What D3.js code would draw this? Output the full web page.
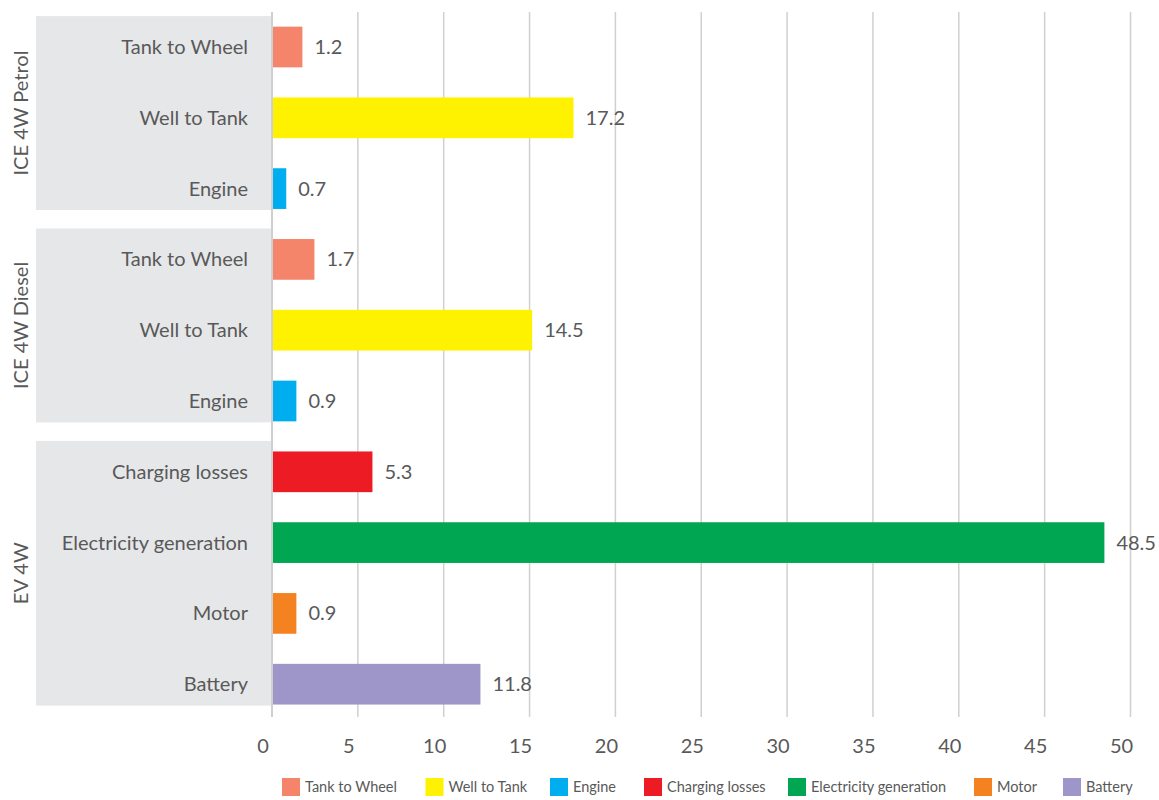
<!DOCTYPE html>
<html>
<head>
<meta charset="utf-8">
<script src="https://cdn.jsdelivr.net/npm/d3@7"></script>
<style>
body { margin: 0; background: #fff; }
svg text { font-family: Lato, "Open Sans", sans-serif; fill: #595959; }
</style>
</head>
<body>
<div class="chart"></div>
<script>
var width = 1159, height = 800;

// data
var groups = ['ICE 4W Petrol', 'ICE 4W Diesel', 'EV 4W'];
var categories = ['Tank to Wheel', 'Well to Tank', 'Engine',
	'Tank to Wheel', 'Well to Tank', 'Engine',
	'Charging losses', 'Electricity generation', 'Motor', 'Battery'];
var categoryGroup = [0, 0, 0, 1, 1, 1, 2, 2, 2, 2];
var barValues = [1.77, 17.56, 0.83, 2.47, 15.15, 1.42, 5.85, 48.48, 1.42, 12.14];
var labelValues = ['1.2', '17.2', '0.7', '1.7', '14.5', '0.9', '5.3', '48.5', '0.9', '11.8'];
var series = ['Tank to Wheel', 'Well to Tank', 'Engine', 'Charging losses', 'Electricity generation', 'Motor', 'Battery'];
var seriesColors = ['#f4846a', '#fff200', '#00aeef', '#ed1c24', '#00a651', '#f58220', '#9e95c8'];
var xTicks = [0, 5, 10, 15, 20, 25, 30, 35, 40, 45, 50];

var color = d3.scaleOrdinal().domain(series).range(seriesColors);

var svg = d3.select('.chart')
	.append('svg')
	.attr('width', width)
	.attr('height', height);

var x = d3.scaleLinear().domain([0, 50]).range([272, 1130.5]);
var y = d3.scaleBand()
	.domain(d3.range(categories.length))
	.range([11.6, 719.6])
	.paddingInner(0.425)
	.paddingOuter(0.2125);

var step = y.step();
var rowTop = function(i) { return y(i) - (step - y.bandwidth()) / 2; };

// gray category panels
groups.forEach(function(g, gi) {
	var idx = categoryGroup.map(function(v, i) { return v === gi ? i : -1; }).filter(function(i) { return i >= 0; });
	var top = rowTop(idx[0]) + 4.5;
	var bottom = rowTop(idx[idx.length - 1]) + step - 14;
	svg.append('rect')
		.attr('x', 36)
		.attr('y', top)
		.attr('width', 235)
		.attr('height', bottom - top)
		.attr('fill', '#e6e7e9');
	svg.append('text')
		.attr('transform', 'translate(28,' + ((top + bottom) / 2) + ') rotate(-90)')
		.attr('text-anchor', 'middle')
		.attr('font-size', 20)
		.text(g);
});

// gridlines + ticks
svg.append('g')
	.selectAll('line')
	.data(xTicks)
	.enter().append('line')
	.attr('x1', function(d) { return x(d); })
	.attr('x2', function(d) { return x(d); })
	.attr('y1', 12)
	.attr('y2', 717)
	.attr('stroke', function(d) { return d === 0 ? '#bfbfbf' : '#d0d0d0'; })
	.attr('stroke-width', 1.5);

svg.append('g')
	.selectAll('text')
	.data(xTicks)
	.enter().append('text')
	.attr('x', function(d) { return x(d) - 9; })
	.attr('y', 753)
	.attr('text-anchor', 'middle')
	.attr('font-size', 20)
	.text(function(d) { return d; });

// category labels
svg.append('g')
	.selectAll('text')
	.data(categories)
	.enter().append('text')
	.attr('x', 248)
	.attr('y', function(d, i) { return y(i) + y.bandwidth() / 2; })
	.attr('dy', '0.35em')
	.attr('text-anchor', 'end')
	.attr('font-size', 20)
	.text(function(d) { return d; });

// bars
svg.append('g')
	.selectAll('rect')
	.data(barValues)
	.enter().append('rect')
	.attr('x', x(0) + 1)
	.attr('y', function(d, i) { return y(i); })
	.attr('width', function(d) { return x(d) - x(0) - 1; })
	.attr('height', y.bandwidth())
	.attr('fill', function(d, i) { return color(categories[i]); });

// value labels
svg.append('g')
	.selectAll('text')
	.data(barValues)
	.enter().append('text')
	.attr('x', function(d) { return x(d) + 12; })
	.attr('y', function(d, i) { return y(i) + y.bandwidth() / 2; })
	.attr('dy', '0.35em')
	.attr('font-size', 20)
	.text(function(d, i) { return labelValues[i]; });

// legend
var legendX = [282, 425.5, 550, 644, 788, 974, 1063];
var legend = svg.append('g')
	.selectAll('g')
	.data(series)
	.enter().append('g')
	.attr('transform', function(d, i) { return 'translate(' + legendX[i] + ',778)'; });

legend.append('rect')
	.attr('width', 18)
	.attr('height', 18)
	.attr('fill', function(d) { return color(d); });

legend.append('text')
	.attr('x', 23)
	.attr('y', 9)
	.attr('dy', '0.35em')
	.attr('font-size', 14.5)
	.text(function(d) { return d; });
</script>
</body>
</html>
